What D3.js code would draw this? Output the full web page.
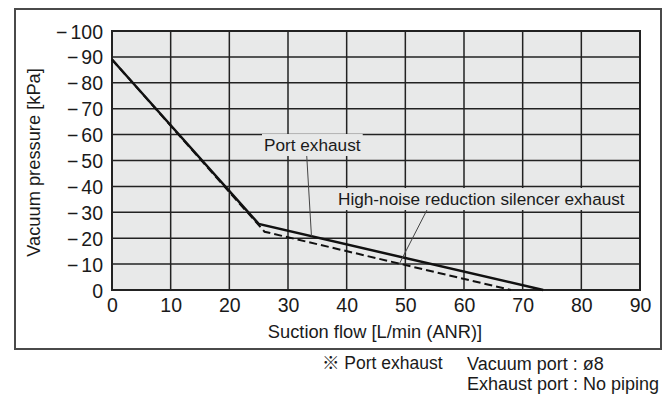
<!DOCTYPE html>
<html>
<head>
<meta charset="utf-8">
<script src="https://cdn.jsdelivr.net/npm/d3@7"></script>
<style>
  html, body { margin: 0; padding: 0; background: #fff; }
  svg { display: block; }
  text { font-family: "Liberation Sans", Arial, "Noto Sans CJK JP", sans-serif; fill: #1a1a1a; }
</style>
</head>
<body>
<svg id="chart" width="666" height="405"></svg>
<script>
// ---- data ----
const flowTicks = [0, 10, 20, 30, 40, 50, 60, 70, 80, 90];
const pressureTicks = [0, 10, 20, 30, 40, 50, 60, 70, 80, 90, 100];
const pressureTickLabels = ["0", "−10", "−20", "−30", "−40", "−50", "−60", "−70", "−80", "−90", "−100"];
const portExhaustFlow = [0, 25, 73.5];
const portExhaustPressure = [89, 25.5, 0];
const silencerFlow = [0, 26, 68];
const silencerPressure = [89, 22.5, 0];
const xTitle = "Suction flow [L/min (ANR)]";
const yTitle = "Vacuum pressure [kPa]";
const labelPort = "Port exhaust";
const labelSilencer = "High-noise reduction silencer exhaust";
const noteLines = ["※ Port exhaust", "Vacuum port : ø8", "Exhaust port : No piping"];

// ---- layout ----
const svg = d3.select("#chart");
const x = d3.scaleLinear().domain([0, 90]).range([112, 640]);
const y = d3.scaleLinear().domain([0, 100]).range([290, 31]);

// outer frame
svg.append("rect").attr("x", 15).attr("y", 9).attr("width", 646).attr("height", 340)
  .attr("fill", "#fff").attr("stroke", "#4a4a4a").attr("stroke-width", 2);

// plot background
svg.append("rect").attr("x", x(0)).attr("y", y(100)).attr("width", x(90) - x(0)).attr("height", y(0) - y(100))
  .attr("fill", "#e8e9e9");

// grid
const grid = svg.append("g").attr("stroke", "#222").attr("stroke-width", 1.5);
grid.selectAll("line.v").data(flowTicks).join("line").attr("class", "v")
  .attr("x1", d => x(d)).attr("x2", d => x(d)).attr("y1", y(0)).attr("y2", y(100));
grid.selectAll("line.h").data(pressureTicks).join("line").attr("class", "h")
  .attr("x1", x(0)).attr("x2", x(90)).attr("y1", d => y(d)).attr("y2", d => y(d));
svg.append("rect").attr("x", x(0)).attr("y", y(100)).attr("width", x(90) - x(0)).attr("height", y(0) - y(100))
  .attr("fill", "none").attr("stroke", "#222").attr("stroke-width", 2);

// axes (labels only)
const xAxis = d3.axisBottom(x).tickValues(flowTicks).tickSize(0).tickPadding(0).tickFormat(d3.format("d"));
const gx = svg.append("g").attr("transform", `translate(0,${y(0)})`).call(xAxis);
gx.select(".domain").remove();
gx.selectAll("text").attr("dy", null).attr("y", 22).attr("font-size", 19.5)
  .attr("font-family", "Liberation Sans, Arial, sans-serif").attr("fill", "#1a1a1a");

const yAxis = d3.axisLeft(y).tickValues(pressureTicks).tickSize(0).tickPadding(0)
  .tickFormat((d, i) => pressureTickLabels[i]);
const gy = svg.append("g").attr("transform", `translate(${x(0)},0)`).call(yAxis);
gy.select(".domain").remove();
gy.selectAll("text").attr("x", -9).attr("dy", "0.36em").attr("font-size", 19.5)
  .attr("font-family", "Liberation Sans, Arial, sans-serif").attr("fill", "#1a1a1a")
  .each(function () {
    const s = d3.select(this);
    const txt = s.text();
    if (txt.startsWith("−")) {
      s.text(null);
      s.append("tspan").text("−");
      s.append("tspan").attr("dx", 3).text(txt.slice(1));
    }
  });

// axis titles
svg.append("text").attr("x", 375).attr("y", 338).attr("text-anchor", "middle")
  .attr("font-size", 18.3).text(xTitle);
svg.append("text").attr("transform", `translate(40,${(y(0) + y(100)) / 2 + 2}) rotate(-90)`)
  .attr("text-anchor", "middle").attr("font-size", 18.3).text(yTitle);

// series
const line = d3.line().x(d => x(d[0])).y(d => y(d[1]));
const silencer = silencerFlow.map((f, i) => [f, silencerPressure[i]]);
const port = portExhaustFlow.map((f, i) => [f, portExhaustPressure[i]]);
svg.append("path").datum(silencer).attr("d", line).attr("fill", "none")
  .attr("stroke", "#111").attr("stroke-width", 2).attr("stroke-dasharray", "8,4");
svg.append("path").datum(port).attr("d", line).attr("fill", "none")
  .attr("stroke", "#111").attr("stroke-width", 2.5);

// helpers to read values along a series
const interp = (fx, py, f) => {
  for (let i = 0; i < fx.length - 1; i++) {
    if (f >= fx[i] && f <= fx[i + 1]) {
      const t = (f - fx[i]) / (fx[i + 1] - fx[i]);
      return py[i] + t * (py[i + 1] - py[i]);
    }
  }
  return 0;
};

function label(txt, tx, ty, size) {
  const g = svg.append("g");
  const t = g.append("text").attr("x", tx).attr("y", ty).attr("dy", "0.35em").attr("font-size", size).text(txt);
  const b = t.node().getBBox();
  g.insert("rect", "text").attr("x", b.x - 2).attr("y", b.y - 1).attr("width", b.width + 4).attr("height", b.height + 2)
    .attr("fill", "#e8e9e9");
  return b;
}
const portTarget = 34;
svg.append("line").attr("x1", 306.5).attr("y1", 152)
  .attr("x2", x(portTarget)).attr("y2", y(interp(portExhaustFlow, portExhaustPressure, portTarget)))
  .attr("stroke", "#444").attr("stroke-width", 1);
label(labelPort, 264, 145, 17.2);

const silTarget = 49;
svg.append("line").attr("x1", 429).attr("y1", 206)
  .attr("x2", x(silTarget)).attr("y2", y(interp(silencerFlow, silencerPressure, silTarget)))
  .attr("stroke", "#444").attr("stroke-width", 1);
label(labelSilencer, 338, 199, 17.2);

// notes
svg.append("text").attr("x", 322).attr("y", 363).attr("dy", "0.35em").attr("font-size", 17.5).text(noteLines[0]);
svg.append("text").attr("x", 467).attr("y", 364).attr("dy", "0.35em").attr("font-size", 18).text(noteLines[1]);
svg.append("text").attr("x", 467).attr("y", 384).attr("dy", "0.35em").attr("font-size", 18).text(noteLines[2]);
</script>
</body>
</html>
